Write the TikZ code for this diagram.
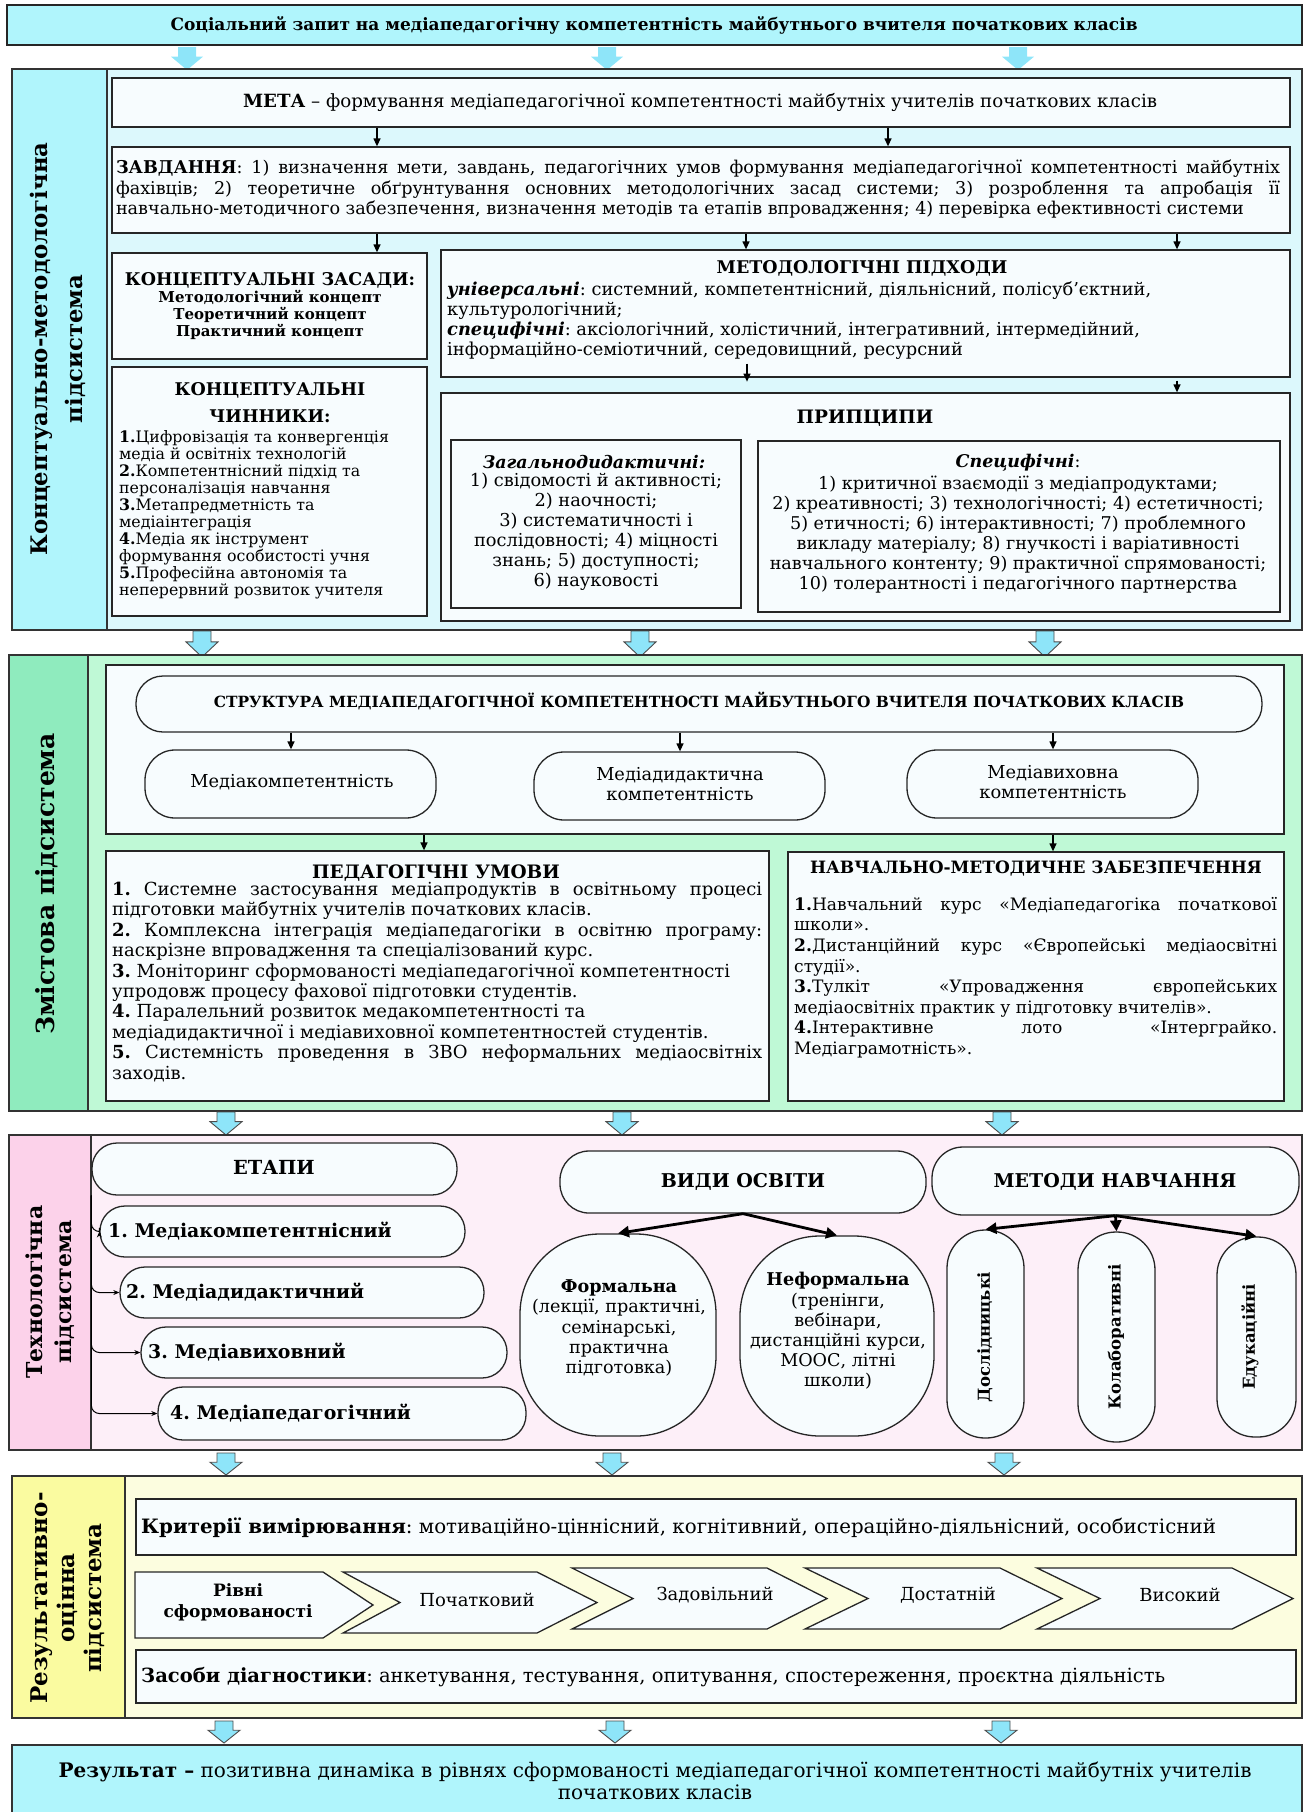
\documentclass[tikz,border=0pt]{standalone}
\usepackage{fontspec}
\setmainfont{DejaVu Serif}
\usetikzlibrary{arrows.meta,calc}
\definecolor{cyanA}{HTML}{B0F5FC}
\definecolor{cyanB}{HTML}{DCF8FC}
\definecolor{greenA}{HTML}{8FEBBE}
\definecolor{greenB}{HTML}{BFF9D6}
\definecolor{pinkA}{HTML}{FCD2EA}
\definecolor{pinkB}{HTML}{FDEFF8}
\definecolor{yelA}{HTML}{FAFBA0}
\definecolor{yelB}{HTML}{FCFDDF}
\definecolor{boxF}{HTML}{F7FCFE}
\definecolor{arrC}{HTML}{8EE5F9}
\frenchspacing
\newcommand\fsz[2]{\fontsize{#1}{#2}\selectfont}
\newcommand\jl[2]{\makebox[#1][s]{#2}}
\newcommand\mkbox[6]{\node[#1, minimum width={#4-#2}, minimum height={#5-#3}] (#6) at ({(#2+#4)/2},{(#3+#5)/2}) {};}
\newcommand\blkarrow[4]{\draw[#1] ({#2-9},#3) -- ({#2+9},#3) -- ({#2+9},{#3+0.42*(#4-#3)}) -- ({#2+16},{#3+0.42*(#4-#3)}) -- (#2,#4) -- ({#2-16},{#3+0.42*(#4-#3)}) -- ({#2-9},{#3+0.42*(#4-#3)}) -- cycle;}
\newcommand\chev[6]{\draw[bx] (#1,#5) -- (#3,#5) -- (#4,{(#5+#6)/2}) -- (#3,#6) -- (#1,#6) -- (#2,{(#5+#6)/2}) -- cycle;}
\tikzset{
  bx/.style={draw=black!85, line width=1.3pt, fill=boxF, inner sep=0pt},
  sec/.style={draw=black!80, line width=2pt, inner sep=0pt},
  arr/.style={line width=1.3pt, -{Triangle[length=8pt,width=7pt]}},
  thk/.style={line width=2.8pt, -{Triangle[length=11pt,width=11pt]}},
  sarr/.style={line width=1pt, -{Stealth[length=6pt,width=5pt]}, rounded corners=8pt},
  lbl/.style={rotate=90, align=center, inner sep=0pt},
  txt/.style={inner sep=0pt},
  barA/.style={fill=arrC, draw=none},
  barB/.style={fill=arrC, draw=black!70, line width=0.9pt},
}
\begin{document}
\begin{tikzpicture}[x=1pt,y=-1pt]
\useasboundingbox (0,0) rectangle (1303,1812);
% column coordinates
\foreach \c in {291,377,424,680,746,747,888,1053,1177}{\coordinate (c\c) at (\c,0);}

% ---------- top
\mkbox{bx,fill=cyanA,line width=1.6pt}{7}{5}{1302}{45}{top}
\node[txt,font=\bfseries\fsz{17}{20}] (topt) at (654,25) {Соціальний запит на медіапедагогічну компетентність майбутнього вчителя початкових класів};
\blkarrow{barA}{187}{47}{70}
\blkarrow{barA}{607}{47}{70}
\blkarrow{barA}{1018}{47}{70}

% ---------- section 1
\mkbox{sec,fill=cyanB}{12}{69}{1302}{630}{s1}
\mkbox{sec,fill=cyanA}{12}{69}{107}{630}{s1l}
\node[lbl,font=\bfseries\fsz{22.8}{35}] (l1) at (58,349) {Концептуально-методологічна\\підсистема};

\mkbox{bx}{112}{78}{1290}{127}{meta}
\node[txt,font=\fsz{18.2}{20}] (metat) at (700,102) {\textbf{МЕТА} – формування медіапедагогічної компетентності майбутніх учителів початкових класів};

\mkbox{bx}{112}{147}{1290}{233}{zav}
\node[txt,align=left,font=\fsz{17.6}{20.8}] (zavt) at (698,189) {\jl{1164pt}{\textbf{ЗАВДАННЯ}: 1) визначення мети, завдань, педагогічних умов формування медіапедагогічної компетентності майбутніх}\\
\jl{1164pt}{фахівців; 2) теоретичне обґрунтування основних методологічних засад системи; 3) розроблення та апробація її}\\
\makebox[1164pt][l]{навчально-методичного забезпечення, визначення методів та етапів впровадження; 4) перевірка ефективності системи}};

\draw[arr] (meta.south -| c377) -- (zav.north -| c377);
\draw[arr] (meta.south -| c888) -- (zav.north -| c888);

\mkbox{bx}{112}{253}{427}{359}{zas}
\node[txt,align=center,font=\bfseries\fsz{15}{17}] (zast) at (270,306) {{\fsz{17.5}{20}КОНЦЕПТУАЛЬНІ ЗАСАДИ:}\\Методологічний концепт\\Теоретичний концепт\\Практичний концепт};

\mkbox{bx}{112}{367}{427}{616}{chyn}
\node[txt,align=center,font=\bfseries\fsz{17.5}{27}] (chynh) at (270,403) {КОНЦЕПТУАЛЬНІ\\ЧИННИКИ:};
\node[txt,align=left,anchor=west,font=\fsz{15.8}{17}] (chynt) at (119,515) {\textbf{1.}Цифровізація та конвергенція\\медіа й освітніх технологій\\\textbf{2.}Компетентнісний підхід та\\персоналізація навчання\\\textbf{3.}Метапредметність та\\медіаінтеграція\\\textbf{4.}Медіа як інструмент\\формування особистості учня\\\textbf{5.}Професійна автономія та\\неперервний розвиток учителя};

\mkbox{bx}{441}{250}{1290}{377}{mp}
\node[txt,font=\bfseries\fsz{17.5}{20}] (mph) at (862,268) {МЕТОДОЛОГІЧНІ ПІДХОДИ};
\node[txt,align=left,anchor=west,font=\fsz{17.8}{20}] (mpt) at (447,321) {\textbf{\textit{універсальні}}: системний, компетентнісний, діяльнісний, полісуб’єктний,\\культурологічний;\\\textbf{\textit{специфічні}}: аксіологічний, холістичний, інтегративний, інтермедійний,\\інформаційно-семіотичний, середовищний, ресурсний};

\draw[arr] (zav.south -| c377) -- (zas.north -| c377);
\draw[arr] (zav.south -| c746) -- (mp.north -| c746);
\draw[arr] (zav.south -| c1177) -- (mp.north -| c1177);

\mkbox{bx}{441}{393}{1290}{621}{pr}
\node[txt,font=\bfseries\fsz{18.5}{20}] (prh) at (865,418) {ПРИПЦИПИ};
\draw[arr] ($(mp.south -| c747)+(0,-14)$) -- ($(mp.south -| c747)+(0,4)$);
\draw[arr] ($(mp.south -| c1177)+(0,3)$) -- (pr.north -| c1177);

\mkbox{bx}{451}{440}{741}{608}{zag}
\node[txt,font=\bfseries\itshape\fsz{17.4}{20}] (zagh) at (594,462) {Загальнодидактичні:};
\node[txt,align=center,font=\fsz{17.8}{20}] (zagt) at (596,532) {1) свідомості й активності;\\2) наочності;\\3) систематичності і\\послідовності; 4) міцності\\знань; 5) доступності;\\6) науковості};

\mkbox{bx}{758}{441}{1280}{612}{spe}
\node[txt,font=\fsz{17.5}{20}] (speh) at (1018,463) {\textbf{\textit{Специфічні}}:};
\node[txt,align=center,font=\fsz{17.6}{20}] (spet) at (1018,535) {1) критичної взаємодії з медіапродуктами;\\2) креативності; 3) технологічності; 4) естетичності;\\5) етичності; 6) інтерактивності; 7) проблемного\\викладу матеріалу; 8) гнучкості і варіативності\\навчального контенту; 9) практичної спрямованості;\\10) толерантності і педагогічного партнерства};

% arrows 1 -> 2
\blkarrow{barB}{202}{631}{657}
\blkarrow{barB}{640}{631}{657}
\blkarrow{barB}{1045}{631}{657}

% ---------- section 2
\mkbox{sec,fill=greenB}{9}{655}{1302}{1111}{s2}
\mkbox{sec,fill=greenA}{9}{655}{88}{1111}{s2l}
\node[lbl,font=\bfseries\fsz{25}{30}] (l2) at (47,884) {Змістова підсистема};

\mkbox{bx}{106}{665}{1284}{834}{inner}
\mkbox{bx,rounded corners=27pt}{136}{676}{1262}{732}{str}
\node[txt,font=\bfseries\fsz{15.4}{18}] (strt) at (699,701) {СТРУКТУРА МЕДІАПЕДАГОГІЧНОЇ КОМПЕТЕНТНОСТІ МАЙБУТНЬОГО ВЧИТЕЛЯ ПОЧАТКОВИХ КЛАСІВ};

\mkbox{bx,rounded corners=30pt}{145}{750}{436}{818}{m1}
\mkbox{bx,rounded corners=30pt}{534}{752}{825}{820}{m2}
\mkbox{bx,rounded corners=30pt}{907}{750}{1198}{818}{m3}
\node[txt,font=\fsz{17.8}{20}] (m1t) at (292,782) {Медіакомпетентність};
\node[txt,align=center,font=\fsz{17.8}{20.5}] (m2t) at (680,784) {Медіадидактична\\компетентність};
\node[txt,align=center,font=\fsz{17.8}{20.5}] (m3t) at (1053,782) {Медіавиховна\\компетентність};
\draw[arr] (str.south -| c291) -- (m1.north -| c291);
\draw[arr] (str.south -| c680) -- (m2.north -| c680);
\draw[arr] (str.south -| c1053) -- (m3.north -| c1053);

\mkbox{bx}{106}{851}{769}{1101}{pu}
\node[txt,font=\bfseries\fsz{18.5}{20}] (puh) at (436,873) {ПЕДАГОГІЧНІ УМОВИ};
\node[txt,align=left,anchor=north west,font=\fsz{18}{20.4}] (put) at (112,882) {\jl{650pt}{\textbf{1.} Системне застосування медіапродуктів в освітньому процесі}\\
підготовки майбутніх учителів початкових класів.\\
\jl{650pt}{\textbf{2.} Комплексна інтеграція медіапедагогіки в освітню програму:}\\
наскрізне впровадження та спеціалізований курс.\\
\textbf{3.} Моніторинг сформованості медіапедагогічної компетентності\\
упродовж процесу фахової підготовки студентів.\\
\textbf{4.} Паралельний розвиток медакомпетентності та\\
медіадидактичної і медіавиховної компетентностей студентів.\\
\jl{650pt}{\textbf{5.} Системність проведення в ЗВО неформальних медіаосвітніх}\\
заходів.};

\mkbox{bx}{788}{852}{1284}{1101}{nmz}
\node[txt,font=\bfseries\fsz{17}{20}] (nmzh) at (1036,869) {НАВЧАЛЬНО-МЕТОДИЧНЕ ЗАБЕЗПЕЧЕННЯ};
\node[txt,align=left,anchor=north west,font=\fsz{17.1}{20.6}] (nmzt) at (794,897) {\jl{483pt}{\textbf{1.}Навчальний курс «Медіапедагогіка початкової}\\
школи».\\
\jl{483pt}{\textbf{2.}Дистанційний курс «Європейські медіаосвітні}\\
студії».\\
\jl{483pt}{\textbf{3.}Тулкіт «Упровадження європейських}\\
медіаосвітніх практик у підготовку вчителів».\\
\jl{483pt}{\textbf{4.}Інтерактивне лото «Інтерграйко.}\\
Медіаграмотність».};

\draw[arr] (inner.south -| c424) -- (pu.north -| c424);
\draw[arr] (inner.south -| c1053) -- (nmz.north -| c1053);

% arrows 2 -> 3
\blkarrow{barB}{226}{1112}{1135}
\blkarrow{barB}{622}{1112}{1135}
\blkarrow{barB}{1002}{1112}{1135}

% ---------- section 3
\mkbox{sec,fill=pinkB}{9}{1135}{1302}{1450}{s3}
\mkbox{sec,fill=pinkA}{9}{1135}{91}{1450}{s3l}
\node[lbl,font=\bfseries\fsz{22}{29}] (l3) at (50,1292) {Технологічна\\підсистема};

\mkbox{bx,rounded corners=25pt}{92}{1143}{457}{1195}{eta}
\node[txt,font=\bfseries\fsz{19.4}{20}] (etat) at (274,1167) {ЕТАПИ};
\mkbox{bx,rounded corners=25pt}{100}{1206}{465}{1257}{st1}
\mkbox{bx,rounded corners=25pt}{120}{1267}{484}{1318}{st2}
\mkbox{bx,rounded corners=25pt}{141}{1327}{507}{1378}{st3}
\mkbox{bx,rounded corners=25pt}{158}{1387}{526}{1440}{st4}
\node[txt,anchor=west,font=\bfseries\fsz{18.9}{20}] (st1t) at (108,1231) {1. Медіакомпетентнісний};
\node[txt,anchor=west,font=\bfseries\fsz{18.9}{20}] (st2t) at (126,1292) {2. Медіадидактичний};
\node[txt,anchor=west,font=\bfseries\fsz{18.9}{20}] (st3t) at (148,1352) {3. Медіавиховний};
\node[txt,anchor=west,font=\bfseries\fsz{18.9}{20}] (st4t) at (170,1413) {4. Медіапедагогічний};
\draw[sarr] (eta.south west) |- (st1.west);
\draw[sarr] (eta.south west) |- (st2.west);
\draw[sarr] (eta.south west) |- (st3.west);
\draw[sarr] (eta.south west) |- (st4.west);

\mkbox{bx,rounded corners=29pt}{560}{1151}{926}{1213}{vid}
\node[txt,font=\bfseries\fsz{19}{20}] (vidt) at (743,1182) {ВИДИ ОСВІТИ};
\mkbox{bx,rounded corners=31pt}{932}{1147}{1299}{1215}{met}
\node[txt,font=\bfseries\fsz{19}{20}] (mett) at (1115,1182) {МЕТОДИ НАВЧАННЯ};

\mkbox{bx,rounded corners=80pt}{520}{1234}{716}{1436}{form}
\mkbox{bx,rounded corners=80pt}{740}{1236}{934}{1436}{nform}
\node[txt,align=center,font=\fsz{17.6}{20.2}] (formt) at (619,1328) {\textbf{Формальна}\\(лекції, практичні,\\семінарські,\\практична\\підготовка)};
\node[txt,align=center,font=\fsz{17.6}{20.2}] (nformt) at (838,1331) {\textbf{Неформальна}\\(тренінги,\\вебінари,\\дистанційні курси,\\МООС, літні\\школи)};
\draw[thk] (vid.south) -- (form.north);
\draw[thk] (vid.south) -- (nform.north);

\mkbox{bx,rounded corners=38pt}{947}{1230}{1024}{1438}{dos}
\mkbox{bx,rounded corners=38pt}{1078}{1232}{1155}{1442}{kol}
\mkbox{bx,rounded corners=38pt}{1217}{1237}{1296}{1437}{edu}
\node[lbl,font=\bfseries\fsz{16.5}{20}] (dost) at (985,1337) {Дослідницькі};
\node[lbl,font=\bfseries\fsz{16.5}{20}] (kolt) at (1116,1337) {Колаборативні};
\node[lbl,font=\bfseries\fsz{16.5}{20}] (edut) at (1250,1337) {Едукаційні};
\draw[thk] (met.south) -- (dos.north);
\draw[thk] (met.south) -- (kol.north);
\draw[thk] (met.south) -- (edu.north);

% arrows 3 -> 4
\blkarrow{barB}{226}{1453}{1475}
\blkarrow{barB}{612}{1453}{1475}
\blkarrow{barB}{1004}{1453}{1475}

% ---------- section 4
\mkbox{sec,fill=yelB}{12}{1476}{1302}{1718}{s4}
\mkbox{sec,fill=yelA}{12}{1476}{125}{1718}{s4l}
\node[lbl,font=\bfseries\fsz{23}{27}] (l4) at (68,1598) {Результативно-\\оцінна\\підсистема};

\mkbox{bx}{136}{1499}{1296}{1555}{kr}
\node[txt,anchor=west,font=\fsz{19.8}{20}] (krt) at (141,1528) {\textbf{Критерії вимірювання}: мотиваційно-ціннісний, когнітивний, операційно-діяльнісний, особистісний};

\draw[bx] (135,1572) -- (323,1572) -- (373,1605) -- (323,1638) -- (135,1638) -- cycle;
\chev{343}{400}{537}{597}{1572}{1633}
\chev{572}{633}{767}{827}{1568}{1629}
\chev{805}{868}{1000}{1062}{1568}{1629}
\chev{1037}{1100}{1232}{1293}{1568}{1629}
\node[txt,align=center,font=\bfseries\fsz{17}{21}] (rivt) at (238,1602) {Рівні\\сформованості};
\node[txt,font=\fsz{18}{20}] (ch1) at (477,1600) {Початковий};
\node[txt,font=\fsz{18}{20}] (ch2) at (715,1595) {Задовільний};
\node[txt,font=\fsz{18}{20}] (ch3) at (948,1595) {Достатній};
\node[txt,font=\fsz{18}{20}] (ch4) at (1180,1595) {Високий};

\mkbox{bx}{136}{1650}{1296}{1703}{zas2}
\node[txt,anchor=west,font=\fsz{19.5}{20}] (zas2t) at (141,1677) {\textbf{Засоби діагностики}: анкетування, тестування, опитування, спостереження, проєктна діяльність};

% arrows 4 -> result
\blkarrow{barB}{224}{1721}{1743}
\blkarrow{barB}{615}{1721}{1743}
\blkarrow{barB}{1001}{1721}{1743}

% ---------- result
\mkbox{sec,fill=cyanA}{12}{1745}{1302}{1830}{res}
\node[txt,align=center,font=\fsz{20}{22.5}] (rest) at (655,1781) {\textbf{Результат –} позитивна динаміка в рівнях сформованості медіапедагогічної компетентності майбутніх учителів\\початкових класів};
\end{tikzpicture}
\end{document}
